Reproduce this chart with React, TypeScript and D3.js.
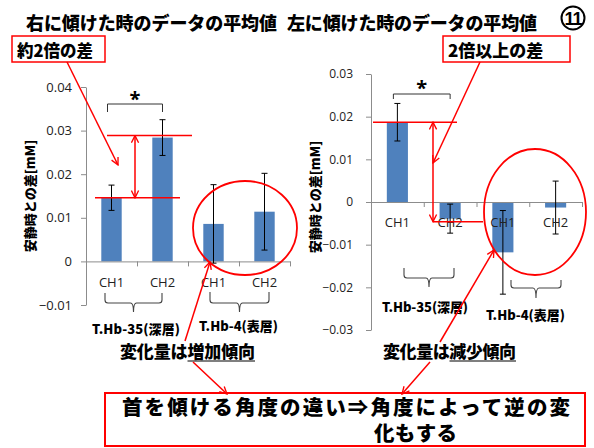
import React, { useEffect, useRef } from 'react';
import * as d3 from 'd3';

// data
const categories = ['CH1', 'CH2', 'CH1', 'CH2'];
const groupNames = ['T.Hb-35(深層)', 'T.Hb-4(表層)'];

const rightTiltMeans = [0.0146, 0.0284, 0.0086, 0.0114];
const rightTiltErrors = [0.0029, 0.0041, 0.009, 0.0088];
const leftTiltMeans = [0.0187, -0.0039, -0.0118, -0.0013];
const leftTiltErrors = [0.0044, 0.0034, 0.0098, 0.0062];

const rightTiltTicks = [-0.01, 0, 0.01, 0.02, 0.03, 0.04];
const leftTiltTicks = [-0.03, -0.02, -0.01, 0, 0.01, 0.02, 0.03];

const titles = ['右に傾けた時のデータの平均値', '左に傾けた時のデータの平均値'];
const slideNo = '11';
const yTitle = '安静時との差[mM]';
const notes = ['約2倍の差', '2倍以上の差'];
const trends = [['変化量は', '増加傾向'], ['変化量は', '減少傾向']];
const conclusion = ['首を傾ける角度の違い⇒角度によって逆の変', '化もする'];

const JP = '"Noto Sans CJK JP", sans-serif';
const NUM = '"Open Sans", "Noto Sans", sans-serif';
const RED = '#ff0000';
const BAR = '#4f81bd';
const AXIS = '#8c8c8c';

type Chart = {
  means: number[];
  errors: number[];
  ticks: number[];
  xRange: [number, number];
  yRange: [number, number];
  tickFont: number;
  tickPad: number;
};

function drawChart(root: d3.Selection<SVGGElement, unknown, null, undefined>, c: Chart) {
  const dom = d3.extent(c.ticks) as [number, number];
  const y = d3.scaleLinear().domain(dom).range(c.yRange);
  const idx = d3.range(categories.length).map(String);
  const x = d3.scaleBand().domain(idx).range(c.xRange).paddingInner(0.6).paddingOuter(0.3);
  const edge = d3.scaleLinear().domain([0, categories.length]).range(c.xRange);
  const y0 = y(0);

  // y axis
  root.append('g')
    .attr('transform', `translate(${c.xRange[0]},0)`)
    .call(d3.axisLeft(y).tickValues(c.ticks).tickSize(5).tickSizeOuter(0).tickPadding(c.tickPad)
      .tickFormat(d => (+d === 0 ? '0' : d3.format('.2f')(+d))))
    .call(g => g.select('.domain').attr('stroke', AXIS))
    .call(g => g.selectAll('.tick line').attr('stroke', AXIS))
    .call(g => g.selectAll('.tick text').attr('fill', '#222').attr('font-family', NUM).attr('font-size', c.tickFont));

  // bars
  const bw = x.bandwidth();
  c.means.forEach((m, i) => {
    const xi = x(String(i)) as number;
    root.append('rect')
      .attr('x', xi).attr('width', bw)
      .attr('y', Math.min(y(m), y0)).attr('height', Math.abs(y(m) - y0))
      .attr('fill', BAR);
  });

  // x axis: boundary ticks
  root.append('g')
    .attr('transform', `translate(0,${y0})`)
    .call(d3.axisBottom(edge).tickValues(d3.range(categories.length + 1)).tickSize(5).tickSizeOuter(0).tickFormat(() => ''))
    .call(g => g.select('.domain').attr('stroke', AXIS))
    .call(g => g.selectAll('.tick line').attr('stroke', AXIS));

  // error bars
  c.means.forEach((m, i) => {
    const cx = (x(String(i)) as number) + bw / 2;
    const e = c.errors[i];
    const g = root.append('g').attr('stroke', '#000').attr('stroke-width', 1);
    g.append('line').attr('x1', cx).attr('x2', cx).attr('y1', y(m - e)).attr('y2', y(m + e));
    g.append('line').attr('x1', cx - 3).attr('x2', cx + 3).attr('y1', y(m - e)).attr('y2', y(m - e));
    g.append('line').attr('x1', cx - 3).attr('x2', cx + 3).attr('y1', y(m + e)).attr('y2', y(m + e));
  });

  // category labels
  root.append('g')
    .attr('transform', `translate(0,${y0})`)
    .call(d3.axisBottom(x).tickSize(0).tickPadding(16).tickFormat(d => categories[+d]))
    .call(g => g.select('.domain').remove())
    .call(g => g.selectAll('.tick text').attr('fill', '#222').attr('font-family', NUM).attr('font-size', 13));

  return { x, y, bw };
}

function brace(x1: number, x2: number, yTop: number, yMid: number, yTip: number) {
  const cx = (x1 + x2) / 2;
  return `M${x1},${yTop} L${x1},${yMid - 3} Q${x1},${yMid} ${x1 + 3},${yMid} L${cx - 3},${yMid} Q${cx},${yMid} ${cx},${yTip}` +
    ` M${x2},${yTop} L${x2},${yMid - 3} Q${x2},${yMid} ${x2 - 3},${yMid} L${cx + 3},${yMid} Q${cx},${yMid} ${cx},${yTip}`;
}

export default function App() {
  const ref = useRef<SVGSVGElement>(null);

  useEffect(() => {
    if (!ref.current) return;
    const svg = d3.select(ref.current);
    svg.selectAll('*').remove();

    const defs = svg.append('defs');
    defs.append('marker')
      .attr('id', 'arr').attr('viewBox', '0 0 10 10').attr('refX', 9).attr('refY', 5)
      .attr('markerWidth', 9).attr('markerHeight', 9).attr('markerUnits', 'userSpaceOnUse')
      .attr('orient', 'auto-start-reverse')
      .append('path').attr('d', 'M1,1 L9,5 L1,9').attr('fill', 'none').attr('stroke', RED).attr('stroke-width', 1.5);

    const root = svg.append('g');

    // titles
    root.append('text').attr('x', 26).attr('y', 30).attr('textLength', 251)
      .attr('font-family', JP).attr('font-weight', 800).attr('font-size', 18).text(titles[0]);
    root.append('text').attr('x', 287).attr('y', 30).attr('textLength', 250)
      .attr('font-family', JP).attr('font-weight', 800).attr('font-size', 18).text(titles[1]);
    // slide number in a circle
    root.append('circle').attr('cx', 573).attr('cy', 18).attr('r', 11.5)
      .attr('fill', 'none').attr('stroke', '#000').attr('stroke-width', 2);
    root.append('text').attr('x', 573).attr('y', 24.5).attr('text-anchor', 'middle')
      .attr('letter-spacing', -1).attr('font-family', '"Liberation Sans Narrow", "Liberation Sans", sans-serif')
      .attr('font-weight', 700).attr('font-size', 18).text(slideNo);

    const L = drawChart(root, {
      means: rightTiltMeans, errors: rightTiltErrors, ticks: rightTiltTicks,
      xRange: [86, 290], yRange: [305, 87], tickFont: 13, tickPad: 9,
    });
    const R = drawChart(root, {
      means: leftTiltMeans, errors: leftTiltErrors, ticks: leftTiltTicks,
      xRange: [371, 582], yRange: [330, 74], tickFont: 12, tickPad: 13,
    });

    // y titles
    [[35, 196], [320, 197]].forEach(([tx, ty]) => {
      root.append('text').attr('transform', `translate(${tx},${ty}) rotate(-90)`).attr('text-anchor', 'middle')
        .attr('font-family', JP).attr('font-weight', 800).attr('font-size', 13).text(yTitle);
    });

    // significance brackets
    const sig = (ch: typeof L, top: number, drop: number, starY: number) => {
      const a = (ch.x('0') as number) + ch.bw / 2;
      const b = (ch.x('1') as number) + ch.bw / 2;
      root.append('path').attr('d', `M${a - 4},${top + drop} L${a - 4},${top} L${b},${top} L${b},${top + drop}`)
        .attr('fill', 'none').attr('stroke', '#333').attr('stroke-width', 1);
      root.append('text').attr('x', (a + b) / 2 - 2).attr('y', starY).attr('text-anchor', 'middle')
        .attr('font-family', NUM).attr('font-weight', 700).attr('font-size', 20).text('*');
    };
    sig(L, 104, 8, 106);
    sig(R, 94, 5, 95);

    // group braces + labels
    const braces = [
      [105, 162, 293, 303, 312], [210, 269, 292, 303, 312],
      [404, 454, 268, 278, 287], [511, 561, 280, 288, 298],
    ];
    braces.forEach(b => root.append('path').attr('d', brace(b[0], b[1], b[2], b[3], b[4]))
      .attr('fill', 'none').attr('stroke', '#444').attr('stroke-width', 1.1));
    const glabels = [[92, 334, 88, 0], [199, 331, 79, 1], [382, 312, 86, 0], [486, 320, 79, 1]];
    glabels.forEach(([gx, gy, w, k]) => {
      root.append('text').attr('x', gx).attr('y', gy).attr('textLength', w)
        .attr('font-family', JP).attr('font-weight', 800).attr('font-size', 13).text(groupNames[k]);
    });

    // trend texts
    [[120, 255], [383, 516]].forEach(([tx, tEnd], k) => {
      const t = root.append('text').attr('x', tx).attr('y', 358).attr('textLength', tEnd - tx)
        .attr('font-family', JP).attr('font-weight', 800).attr('font-size', 17);
      t.append('tspan').text(trends[k][0]);
      t.append('tspan').text(trends[k][1]);
      const ux = tx + (tEnd - tx) / 2;
      root.append('line').attr('x1', ux).attr('x2', tEnd).attr('y1', 361).attr('y2', 361)
        .attr('stroke', '#000').attr('stroke-width', 1.2);
    });

    // note boxes
    const boxes = [[12, 36, 93, 26, 17, 16.5], [443, 36, 127, 26, 448, 17]];
    boxes.forEach(([bx, by, bw, bh, tx, fs], k) => {
      root.append('rect').attr('x', bx).attr('y', by).attr('width', bw).attr('height', bh)
        .attr('fill', '#fff').attr('stroke', RED).attr('stroke-width', 1.5);
      root.append('text').attr('x', tx).attr('y', by + 21).attr('font-family', JP).attr('font-weight', 800)
        .attr('font-size', fs).text(notes[k]);
    });

    const red = (x1: number, y1: number, x2: number, y2: number, start = false, end = true) => {
      const l = root.append('line').attr('x1', x1).attr('y1', y1).attr('x2', x2).attr('y2', y2)
        .attr('stroke', RED).attr('stroke-width', 1.5);
      if (start) l.attr('marker-start', 'url(#arr)');
      if (end) l.attr('marker-end', 'url(#arr)');
    };

    // left chart annotations
    const lTop = L.y(rightTiltMeans[1]) - 2;
    const lBot = L.y(rightTiltMeans[0]);
    red(107, lTop, 192, lTop, false, false);
    red(95, lBot, 180, lBot, false, false);
    red(135, lTop, 135, lBot, true, true);
    red(67, 62, 118, 165);
    root.append('ellipse').attr('cx', 245).attr('cy', 228).attr('rx', 52).attr('ry', 47)
      .attr('fill', 'none').attr('stroke', RED).attr('stroke-width', 1.8);
    red(185, 341, 210, 262);
    red(193, 362, 227, 394);

    // right chart annotations
    const rTop = R.y(leftTiltMeans[0]);
    const rBot = R.y(leftTiltMeans[1]) + 3;
    red(373, rTop, 457, rTop, false, false);
    red(433, rBot, 483, rBot, false, false);
    red(433, rTop, 433, rBot, true, true);
    red(480, 62, 433, 163);
    root.append('ellipse').attr('cx', 535).attr('cy', 212).attr('rx', 51).attr('ry', 63)
      .attr('fill', 'none').attr('stroke', RED).attr('stroke-width', 1.8);
    red(440, 342, 494, 250);
    red(430, 362, 402, 394);

    // conclusion box
    root.append('rect').attr('x', 105).attr('y', 393).attr('width', 480).attr('height', 53)
      .attr('fill', 'none').attr('stroke', RED).attr('stroke-width', 2);
    root.append('text').attr('x', 122).attr('y', 415).attr('textLength', 448)
      .attr('font-family', JP).attr('font-weight', 800).attr('font-size', 20.5).text(conclusion[0]);
    root.append('text').attr('x', 374).attr('y', 441).attr('textLength', 83)
      .attr('font-family', JP).attr('font-weight', 800).attr('font-size', 20.5).text(conclusion[1]);
  }, []);

  return (
    <div style={{ position: 'absolute', left: 0, top: 0, width: 594, height: 448, background: '#fff' }}>
      <svg ref={ref} width={594} height={448} style={{ display: 'block' }} />
    </div>
  );
}
